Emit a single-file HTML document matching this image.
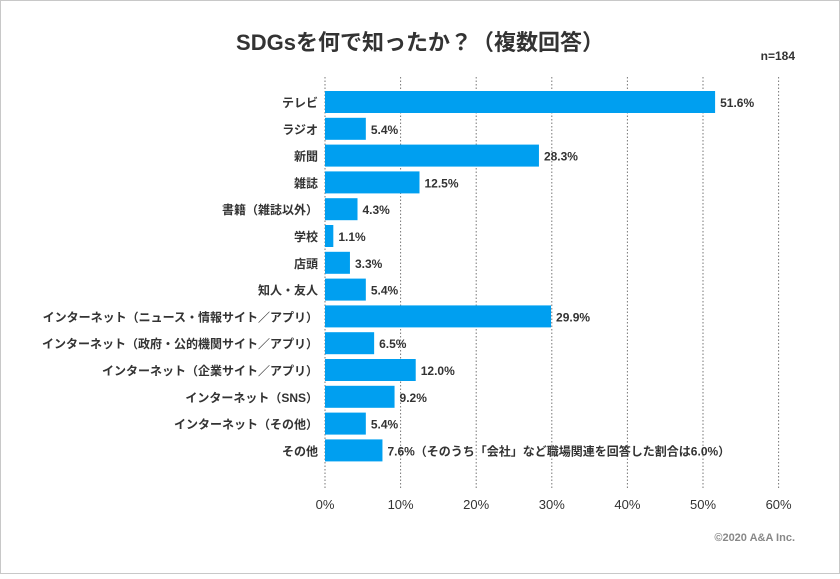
<!DOCTYPE html>
<html><head><meta charset="utf-8"><style>
body{margin:0;background:#fff;}
svg text{font-family:"Liberation Sans","Noto Sans CJK JP",sans-serif;fill:#333;}
</style></head><body>
<svg width="840" height="574" xmlns="http://www.w3.org/2000/svg">
<rect x="0.5" y="0.5" width="839" height="573" fill="#fff" stroke="#c8c8c8"/>
<text x="420" y="50" text-anchor="middle" font-size="22" font-weight="bold">SDGsを何で知ったか？（複数回答）</text>
<text x="795" y="60" text-anchor="end" font-size="12" font-weight="bold">n=184</text>
<text x="795" y="541" text-anchor="end" font-size="11" font-weight="bold" style="fill:#888">©2020 A&amp;A Inc.</text>
<g id="grid"></g><g id="bars"></g>
</svg>
<script>
const categories=["テレビ","ラジオ","新聞","雑誌","書籍（雑誌以外）","学校","店頭","知人・友人","インターネット（ニュース・情報サイト／アプリ）","インターネット（政府・公的機関サイト／アプリ）","インターネット（企業サイト／アプリ）","インターネット（SNS）","インターネット（その他）","その他"];
const values=[51.6,5.4,28.3,12.5,4.3,1.1,3.3,5.4,29.9,6.5,12.0,9.2,5.4,7.6];
const valueLabels=["51.6%","5.4%","28.3%","12.5%","4.3%","1.1%","3.3%","5.4%","29.9%","6.5%","12.0%","9.2%","5.4%","7.6%（そのうち「会社」など職場関連を回答した割合は6.0%）"];
const ticks=[0,10,20,30,40,50,60];
const tickLabels=["0%","10%","20%","30%","40%","50%","60%"];
const NS="http://www.w3.org/2000/svg";
const x=v=>325+v*7.56;
const y=i=>91+i*26.8;
const g=document.getElementById('grid'),b=document.getElementById('bars');
function mk(t,a,p){const e=document.createElementNS(NS,t);for(const k in a)e.setAttribute(k,a[k]);p.appendChild(e);return e;}
ticks.forEach((t,i)=>{
 const l=mk('line',{x1:x(t),x2:x(t),y1:77,y2:488,stroke:'#777','stroke-width':1,'stroke-dasharray':'1.5,2'},g);
 
 
 const tx=mk('text',{x:x(t),y:509,'text-anchor':'middle','font-size':13},g);tx.textContent=tickLabels[i];
 
 
});
categories.forEach((c,i)=>{
 const r=mk('rect',{x:x(0),y:y(i),width:x(values[i])-x(0),height:22,fill:'#009ff0'},b);
 
 
 const cl=mk('text',{x:318,y:y(i)+16,'text-anchor':'end','font-size':12,'font-weight':'bold'},b);cl.textContent=c;
 
 
 const vl=mk('text',{x:x(values[i])+5,y:y(i)+16,'font-size':12,'font-weight':'bold'},b);vl.textContent=valueLabels[i];
 
 
});
</script>
</body></html>
